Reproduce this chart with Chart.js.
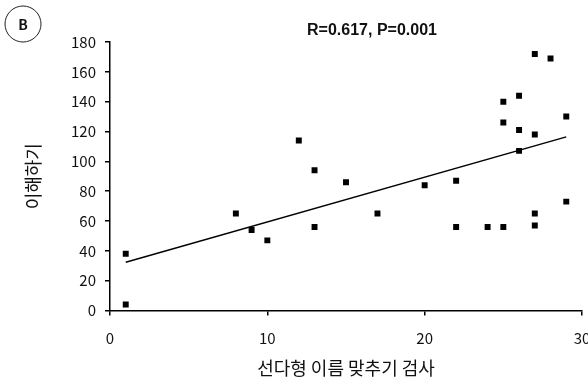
<!DOCTYPE html>
<html>
<head>
<meta charset="utf-8">
<script src="https://cdn.jsdelivr.net/npm/chart.js@4.4.0/dist/chart.umd.min.js"></script>
<style>
  html, body { margin: 0; padding: 0; background: #fff; }
  #wrap { width: 588px; height: 386px; position: relative; }
</style>
</head>
<body>
<div id="wrap"><canvas id="c" width="588" height="386"></canvas></div>
<script>
// Data
const xValues = [1, 1, 8, 9, 10, 12, 13, 13, 15, 17, 20, 22, 22, 24, 25, 25, 25, 26, 26, 26, 27, 27, 27, 27, 28, 29, 29];
const yValues = [38, 4, 65, 54, 47, 114, 94, 56, 86, 65, 84, 87, 56, 56, 56, 140, 126, 144, 121, 107, 172, 118, 65, 57, 169, 130, 73];
const trendX = [1, 29];
const trendY = [32.3, 116.4];
const xTicks = [0, 10, 20, 30];
const yTicks = [0, 20, 40, 60, 80, 100, 120, 140, 160, 180];
const xTitle = '선다형 이름 맞추기 검사';
const yTitle = '이해하기';
const statText = 'R=0.617, P=0.001';
const panelLabel = 'B';

const points = xValues.map((x, i) => ({ x: x, y: yValues[i] }));
const trend = trendX.map((x, i) => ({ x: x, y: trendY[i] }));

const FONT = "'Noto Sans CJK KR', 'Noto Sans', sans-serif";

const overlay = {
  id: 'overlay',
  afterDraw(chart) {
    const ctx = chart.ctx;
    ctx.save();
    // panel label circle
    ctx.beginPath();
    ctx.arc(23, 24, 18, 0, Math.PI * 2);
    ctx.strokeStyle = '#222';
    ctx.lineWidth = 1;
    ctx.stroke();
    ctx.fillStyle = '#111';
    ctx.font = "bold 14px " + FONT;
    ctx.textAlign = 'center';
    ctx.textBaseline = 'middle';
    ctx.fillText(panelLabel, 23, 25);
    // statistic text
    ctx.font = "bold 16px 'Liberation Sans', sans-serif";
    ctx.fillText(statText, 372, 31);
    ctx.restore();
  }
};

new Chart(document.getElementById('c'), {
  type: 'scatter',
  data: {
    datasets: [
      {
        type: 'line',
        data: trend,
        borderColor: '#000',
        borderWidth: 1.5,
        pointRadius: 0,
        fill: false,
        tension: 0,
        order: 2
      },
      {
        data: points,
        pointStyle: 'rect',
        pointRadius: 4.2,
        pointBackgroundColor: '#000',
        pointBorderColor: '#000',
        pointBorderWidth: 0,
        order: 1
      }
    ]
  },
  options: {
    responsive: false,
    animation: false,
    devicePixelRatio: 1,
    layout: { padding: { left: 0, right: 6, top: 42, bottom: 0 } },
    plugins: { legend: { display: false }, tooltip: { enabled: false } },
    scales: {
      x: {
        type: 'linear',
        min: 0, max: 30,
        afterBuildTicks: (s) => { s.ticks = xTicks.map(v => ({ value: v })); },
        afterFit: (s) => { s.height = 75.5; s.paddingRight = 0; s.paddingLeft = 0; },
        border: { color: '#000', width: 1.5 },
        grid: { display: true, drawOnChartArea: false, drawTicks: true, tickLength: 5, color: '#000', lineWidth: 1.5 },
        ticks: { color: '#111', font: { family: FONT, size: 15 }, padding: 14, maxRotation: 0 },
        title: { display: true, text: xTitle, color: '#111', font: { family: FONT, size: 18 }, padding: { top: 0, bottom: 7 } }
      },
      y: {
        type: 'linear',
        min: 0, max: 180,
        afterBuildTicks: (s) => { s.ticks = yTicks.map(v => ({ value: v })); },
        afterFit: (s) => { s.width = 110; s.paddingTop = 0; s.paddingBottom = 0; },
        border: { color: '#000', width: 1.5 },
        grid: { display: true, drawOnChartArea: false, drawTicks: true, tickLength: 5, color: '#000', lineWidth: 1.5 },
        ticks: { color: '#111', font: { family: FONT, size: 15 }, padding: 9 },
        title: { display: true, text: yTitle, color: '#111', font: { family: FONT, size: 18 }, padding: { top: 22, bottom: 0 } }
      }
    }
  },
  plugins: [overlay]
});
</script>
</body>
</html>
